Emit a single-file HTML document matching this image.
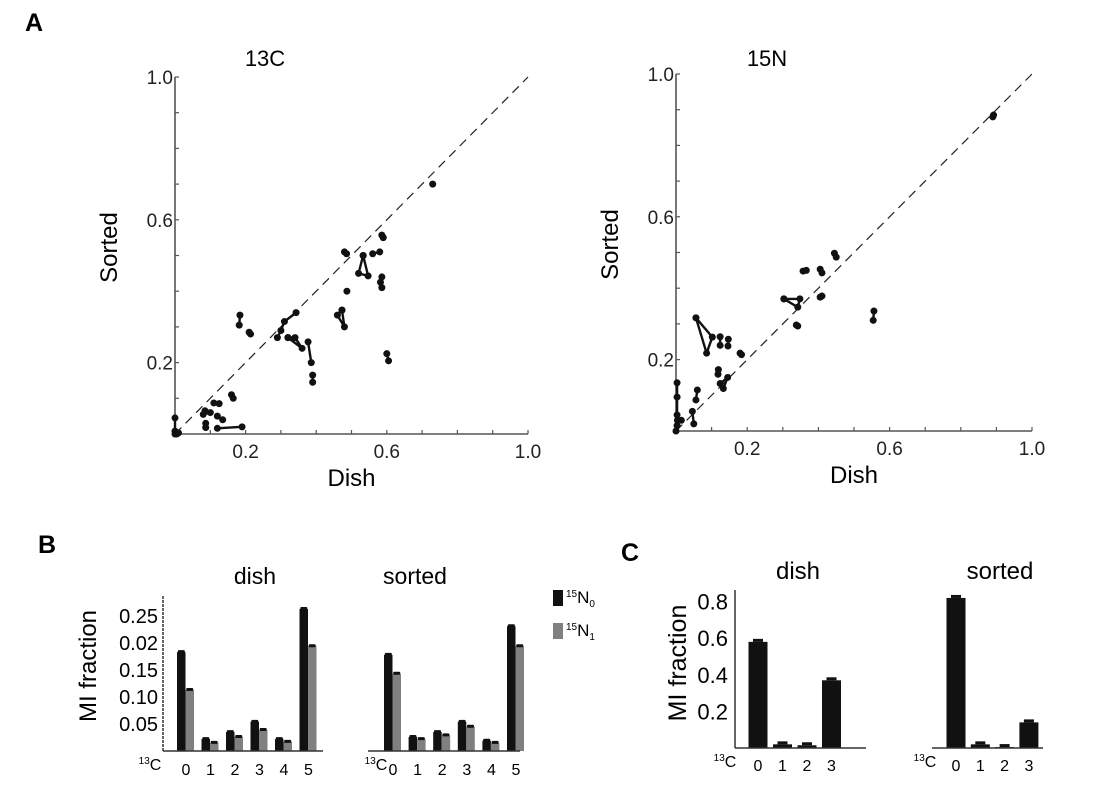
<!DOCTYPE html>
<html><head><meta charset="utf-8"><style>
body{margin:0;background:#fff;}
svg{display:block;font-family:"Liberation Sans",Arial,sans-serif;}
</style></head><body>
<svg id="fig" width="1100" height="800" viewBox="0 0 1100 800" xmlns="http://www.w3.org/2000/svg">
<text x="25" y="31" font-size="25" font-weight="bold">A</text>
<text x="38" y="553" font-size="25" font-weight="bold">B</text>
<text x="621" y="561" font-size="25" font-weight="bold">C</text>
<g id="g"></g>
</svg>
<script>
// ---- Panel A data ----
const scatterTickLabels = ["0.2","0.6","1.0"];
const scatterTickValues = [0.2,0.6,1.0];
const left13C = [
 [[0.73,0.70]],
 [[0.586,0.557],[0.59,0.55]],
 [[0.48,0.51],[0.486,0.505]],
 [[0.56,0.505],[0.58,0.51]],
 [[0.533,0.50],[0.52,0.45],[0.547,0.443],[0.533,0.50]],
 [[0.586,0.44],[0.582,0.425],[0.586,0.41]],
 [[0.487,0.40]],
 [[0.473,0.347],[0.46,0.333],[0.48,0.30],[0.473,0.347]],
 [[0.184,0.333],[0.182,0.305]],
 [[0.21,0.285],[0.214,0.28]],
 [[0.343,0.34],[0.31,0.315],[0.30,0.29],[0.29,0.27]],
 [[0.32,0.27],[0.34,0.27],[0.36,0.24],[0.32,0.27]],
 [[0.377,0.258],[0.386,0.20]],
 [[0.39,0.165],[0.39,0.145]],
 [[0.60,0.225],[0.605,0.205]],
 [[0.16,0.11],[0.165,0.10]],
 [[0.11,0.087],[0.125,0.085]],
 [[0.085,0.065],[0.08,0.055],[0.10,0.06]],
 [[0.12,0.05],[0.135,0.04]],
 [[0.087,0.03],[0.087,0.018]],
 [[0.12,0.016],[0.19,0.02]],
 [[0.0,0.045],[0.0,0.008],[0.005,0.0]],
 [[0.0,0.0],[0.01,0.003]]
];
const right15N = [
 [[0.89,0.88],[0.892,0.885]],
 [[0.445,0.498],[0.45,0.487]],
 [[0.357,0.448],[0.366,0.45]],
 [[0.405,0.453],[0.41,0.443]],
 [[0.405,0.375],[0.41,0.378]],
 [[0.303,0.37],[0.348,0.37],[0.342,0.347],[0.303,0.37]],
 [[0.342,0.294],[0.338,0.297]],
 [[0.556,0.336],[0.554,0.31]],
 [[0.056,0.317],[0.102,0.263],[0.086,0.218],[0.056,0.317]],
 [[0.124,0.264],[0.124,0.24]],
 [[0.147,0.257],[0.146,0.238]],
 [[0.18,0.218],[0.184,0.214]],
 [[0.119,0.172],[0.118,0.159]],
 [[0.124,0.133],[0.145,0.150],[0.133,0.119]],
 [[0.06,0.115],[0.056,0.087]],
 [[0.046,0.055],[0.05,0.02]],
 [[0.003,0.135],[0.003,0.095],[0.003,0.045],[0.003,0.015],[0.0,0.0]],
 [[0.015,0.03],[0.004,0.03]]
];
// ---- Panel B data ----
const bCategories = ["0","1","2","3","4","5"];
const bTickValues = [0.05,0.10,0.15,0.20,0.25];
const bTickLabels = ["0.05","0.10","0.15","0.02","0.25"];
const dishN0 = [0.183,0.022,0.035,0.054,0.022,0.263];
const dishN1 = [0.113,0.015,0.026,0.039,0.017,0.194];
const sortedN0 = [0.178,0.026,0.035,0.054,0.019,0.231];
const sortedN1 = [0.143,0.022,0.029,0.045,0.015,0.194];
// ---- Panel C data ----
const cCategories = ["0","1","2","3"];
const cTickValues = [0.2,0.4,0.6,0.8];
const cTickLabels = ["0.2","0.4","0.6","0.8"];
const cDish = [0.58,0.02,0.015,0.37];
const cSorted = [0.82,0.02,0.005,0.14];

const NS="http://www.w3.org/2000/svg";
const root=document.getElementById('g');
function mk(tag,attrs,parent,txt){const e=document.createElementNS(NS,tag);for(const k in attrs)e.setAttribute(k,attrs[k]);if(txt!==undefined)e.textContent=txt;(parent||root).appendChild(e);return e;}

function scatter(x0,y0,sx,sy,title,tx,groups,name){
  const g=mk('g',{});
  
  
  const X=v=>x0+v*sx, Y=v=>y0-v*sy;
  let t=mk('text',{x:tx,y:66,'font-size':22,'text-anchor':'middle'},g,title);
  
  
  let ax=mk('path',{d:`M${X(0)} ${Y(1)} L${X(0)} ${Y(0)} L${X(1)} ${Y(0)}`,fill:'none',stroke:'#555','stroke-width':1.6},g);
  
  
  for(let i=1;i<=10;i++){
    mk('line',{x1:X(0),x2:X(0)+4,y1:Y(i/10),y2:Y(i/10),stroke:'#555','stroke-width':1.2},g);
    mk('line',{x1:X(i/10),x2:X(i/10),y1:Y(0),y2:Y(0)-4,stroke:'#555','stroke-width':1.2},g);
  }
  scatterTickValues.forEach((v,i)=>{
    let a=mk('text',{x:X(0)-2,y:Y(v)+7,'font-size':19,'text-anchor':'end',fill:'#222'},g,scatterTickLabels[i]);
    
    
    let b=mk('text',{x:X(v),y:Y(0)+24,'font-size':19,'text-anchor':'middle',fill:'#222'},g,scatterTickLabels[i]);
    
    
  });
  let d=mk('line',{x1:X(0),y1:Y(0),x2:X(1),y2:Y(1),stroke:'#222','stroke-width':1.2,'stroke-dasharray':'9,6'},g);
  
  
  let yl=mk('text',{x:0,y:0,'font-size':24,'text-anchor':'middle',transform:`translate(${x0-58},${Y(0.5)-8}) rotate(-90)`},g,'Sorted');
  
  
  let xl=mk('text',{x:X(0.5),y:Y(0)+52,'font-size':24,'text-anchor':'middle'},g,'Dish');
  
  
  groups.forEach(grp=>{
    const pts=grp.map(p=>X(p[0])+','+Y(p[1])).join(' ');
    if(grp.length>1){
      let pl=mk('polyline',{points:pts,fill:'none',stroke:'#111','stroke-width':2.4},g);
      
      
    }
    grp.forEach(p=>{
      let c=mk('circle',{cx:X(p[0]),cy:Y(p[1]),r:3.5,fill:'#111'},g);
      
      
    });
  });
}
scatter(175,434,353,357,'13C',265,left13C,'scatter-13c');
scatter(676,431,356,357,'15N',767,right15N,'scatter-15n');

function sup13C(x,y,g){
  let t=mk('text',{x:x,y:y,'font-size':16,'text-anchor':'middle'},g);
  
  
  mk('tspan',{'font-size':10,dy:-6},t,'13');
  mk('tspan',{dy:6},t,'C');
}
function errCap(g,x,y){mk('rect',{x:x-3.5,y:y-3,width:7,height:3,fill:'#111',rx:1},g);}

// Panel B
function barsB(x0,x1,base,sc,c0,step,n0,n1,title,tx,showAxis,name,lx){
  const g=mk('g',{});
  
  
  const Y=v=>base-v*sc;
  let t=mk('text',{x:tx,y:584,'font-size':23,'text-anchor':'middle'},g,title);
  
  
  bCategories.forEach((c,i)=>{
    const cx=c0+i*step;
    let b=mk('rect',{x:cx-9,y:Y(n0[i]),width:8.5,height:n0[i]*sc,fill:'#111'},g);
    
    
    errCap(g,cx-4.7,Y(n0[i])+1);
    let b2=mk('rect',{x:cx-0.5,y:Y(n1[i]),width:8.5,height:n1[i]*sc,fill:'#808080'},g);
    
    
    errCap(g,cx+3.7,Y(n1[i])+1);
    let l=mk('text',{x:cx,y:base+24,'font-size':16,'text-anchor':'middle'},g,c);
    
    
  });
  let ax=mk('line',{x1:x0,x2:x1,y1:base,y2:base,stroke:'#333','stroke-width':1.5},g);
  
  
  if(showAxis){
    let ya=mk('line',{x1:x0,x2:x0,y1:base,y2:595,stroke:'#333','stroke-width':1.5,'stroke-dasharray':'3,1'},g);
    
    
    bTickValues.forEach((v,i)=>{
      let a=mk('text',{x:x0-5,y:Y(v)+7,'font-size':20,'text-anchor':'end'},g,bTickLabels[i]);
      
      
    });
    let yl=mk('text',{x:0,y:0,'font-size':24,'text-anchor':'middle',transform:`translate(96,666) rotate(-90)`},g,'MI fraction');
    
    
  }
  sup13C(lx,base+19,g);
}
barsB(163,323,751,540,186,24.5,dishN0,dishN1,'dish',255,true,'bar-chart-b-dish',150);
barsB(368,520,751,540,393,24.6,sortedN0,sortedN1,'sorted',415,false,'bar-chart-b-sorted',376);
// legend
const lg=mk('g',{});


[['#111','0',590],['#808080','1',623]].forEach(e=>{
  let r=mk('rect',{x:553,y:e[2],width:10,height:16,fill:e[0]},lg);
  
  
  let t=mk('text',{x:566,y:e[2]+13,'font-size':17},lg);
  
  
  mk('tspan',{'font-size':10,dy:-6},t,'15');
  mk('tspan',{dy:6},t,'N');
  mk('tspan',{'font-size':10,dy:4},t,e[1]);
});

// Panel C
function barsC(x0,x1,base,sc,c0,step,vals,title,tx,showAxis,name,lx){
  const g=mk('g',{});
  
  
  const Y=v=>base-v*sc;
  let t=mk('text',{x:tx,y:579,'font-size':24,'text-anchor':'middle'},g,title);
  
  
  cCategories.forEach((c,i)=>{
    const cx=c0+i*step;
    let b=mk('rect',{x:cx-9.5,y:Y(vals[i]),width:19,height:vals[i]*sc,fill:'#111'},g);
    
    
    mk('rect',{x:cx-5,y:Y(vals[i])-3,width:10,height:3,fill:'#111'},g);
    let l=mk('text',{x:cx,y:base+23,'font-size':16,'text-anchor':'middle'},g,c);
    
    
  });
  let ax=mk('line',{x1:x0,x2:x1,y1:base,y2:base,stroke:'#333','stroke-width':1.5},g);
  
  
  if(showAxis){
    let ya=mk('line',{x1:x0,x2:x0,y1:base,y2:590,stroke:'#333','stroke-width':1.5},g);
    
    
    cTickValues.forEach((v,i)=>{
      let a=mk('text',{x:x0-7,y:Y(v)+8,'font-size':22,'text-anchor':'end'},g,cTickLabels[i]);
      
      
    });
    let yl=mk('text',{x:0,y:0,'font-size':25,'text-anchor':'middle',transform:`translate(686,663) rotate(-90)`},g,'MI fraction');
    
    
  }
  sup13C(lx,base+19,g);
}
barsC(735,866,748,183,758,24.5,cDish,'dish',798,true,'bar-chart-c-dish',725);
barsC(932,1043,748,183,956,24.3,cSorted,'sorted',1000,false,'bar-chart-c-sorted',925);
</script>
</body></html>
